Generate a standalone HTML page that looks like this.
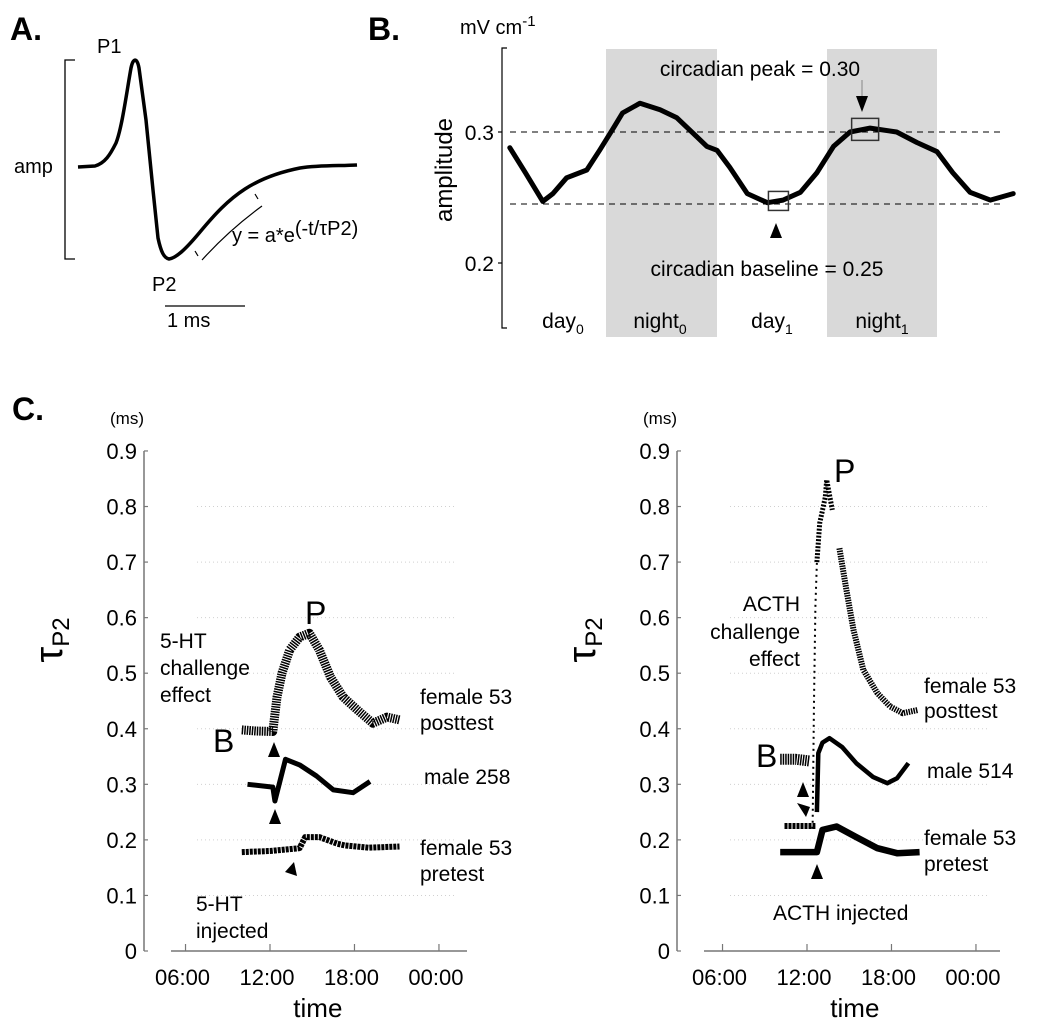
<!DOCTYPE html>
<html><head><meta charset="utf-8"><style>
html,body{margin:0;padding:0;background:#fff;}
svg{display:block;font-family:"Liberation Sans",Arial,sans-serif;}
</style></head><body>
<svg id="fig" width="1050" height="1031" viewBox="0 0 1050 1031" xmlns="http://www.w3.org/2000/svg">
<g>
<text x="10" y="40" font-size="32" font-weight="bold">A.</text>
<text x="97" y="53" font-size="20">P1</text>
<text x="152" y="291" font-size="20">P2</text>
<text x="14" y="173" font-size="20">amp</text>
<path d="M75,60 H65 V259 H75" fill="none" stroke="#000" stroke-width="1.3"/>
<path d="M78,167 L95,166 C105,163 110,155 116,143 C122,128 127,90 131,68 C133,58 137,57 139,68 L146,120 L153,190 L158,238 C161,252 164,258 169,259 C176,258 185,250 200,232 C215,214 228,200 245,189 C262,178 280,172 300,168 C320,165 340,166 357,165" fill="none" stroke="#000" stroke-width="3.5" stroke-linejoin="round"/>
<path d="M202,260 C220,240 240,222 262,206" fill="none" stroke="#000" stroke-width="1.2"/>
<line x1="195" y1="251" x2="198" y2="256" stroke="#000" stroke-width="1.2"/>
<line x1="255" y1="194" x2="258" y2="199" stroke="#000" stroke-width="1.2"/>
<text x="232" y="242" font-size="20">y = a*e<tspan dy="-7">(-t/τP2)</tspan></text>
<line x1="165" y1="306" x2="245" y2="306" stroke="#000" stroke-width="1.3"/>
<text x="167" y="327" font-size="20">1 ms</text>
</g>
<g id="panelB">
<text x="368" y="40" font-size="32" font-weight="bold">B.</text>
<rect x="606" y="49" width="111" height="288" fill="#d9d9d9"/>
<rect x="827" y="49" width="110" height="288" fill="#d9d9d9"/>
<text x="460" y="34" font-size="20">mV cm<tspan dy="-8" font-size="15">-1</tspan></text>
<text transform="translate(452,170) rotate(-90)" text-anchor="middle" font-size="24">amplitude</text>
<path d="M507,48 H502 V328 H507" fill="none" stroke="#000" stroke-width="1.2"/>
<line x1="498" y1="132" x2="502" y2="132" stroke="#000" stroke-width="1.2"/>
<line x1="498" y1="263" x2="502" y2="263" stroke="#000" stroke-width="1.2"/>
<text x="494" y="140" text-anchor="end" font-size="21">0.3</text>
<text x="494" y="271" text-anchor="end" font-size="21">0.2</text>
<text x="563" y="328" text-anchor="middle" font-size="21">day<tspan dy="6" font-size="14">0</tspan></text>
<text x="660" y="328" text-anchor="middle" font-size="21">night<tspan dy="6" font-size="14">0</tspan></text>
<text x="772" y="328" text-anchor="middle" font-size="21">day<tspan dy="6" font-size="14">1</tspan></text>
<text x="882" y="328" text-anchor="middle" font-size="21">night<tspan dy="6" font-size="14">1</tspan></text>
<text x="760" y="76" text-anchor="middle" font-size="21">circadian peak = 0.30</text>
<text x="767" y="276" text-anchor="middle" font-size="21">circadian baseline = 0.25</text>
<line x1="862" y1="80" x2="862" y2="97" stroke="#888" stroke-width="1"/>
<polygon points="856,96 868,96 862,112" fill="#000"/>
<polygon points="770,238 782,238 776,223" fill="#000"/>
</g>
<g id="panelC">
<text x="12" y="420" font-size="32" font-weight="bold">C.</text>
</g>
<g font-size="21">
<text x="305" y="624" font-size="32">P</text>
<text x="213" y="752" font-size="32">B</text>
<text x="160" y="648"><tspan x="160">5-HT</tspan><tspan x="160" dy="27">challenge</tspan><tspan x="160" dy="27">effect</tspan></text>
<text x="420" y="704"><tspan x="420">female 53</tspan><tspan x="420" dy="26">posttest</tspan></text>
<text x="424" y="784">male 258</text>
<text x="420" y="855"><tspan x="420">female 53</tspan><tspan x="420" dy="26">pretest</tspan></text>
<text x="196" y="911"><tspan x="196">5-HT</tspan><tspan x="196" dy="27">injected</tspan></text>
<polygon points="268,757 280,757 274,742" fill="#000"/>
<polygon points="269,824 281,824 275,809" fill="#000"/>
<polygon points="285,872 297,876 294,862" fill="#000"/>
<text x="834" y="482" font-size="32">P</text>
<text x="756" y="767" font-size="32">B</text>
<text x="800" y="611" text-anchor="end"><tspan x="800">ACTH</tspan><tspan x="800" dy="28">challenge</tspan><tspan x="800" dy="27">effect</tspan></text>
<text x="924" y="693"><tspan x="924">female 53</tspan><tspan x="924" dy="25">posttest</tspan></text>
<text x="927" y="778">male 514</text>
<text x="924" y="845"><tspan x="924">female 53</tspan><tspan x="924" dy="26">pretest</tspan></text>
<text x="773" y="920">ACTH injected</text>
<polygon points="797,797 809,797 803,782" fill="#000"/>
<polygon points="797,803 810,807 806,817" fill="#000"/>
<polygon points="811,879 823,879 817,864" fill="#000"/>
</g>
</svg>
<script>
// ---------- Panel B data ----------
var bHours = [1.5,3.2,5.1,6.2,7.7,9.9,11.3,12.8,13.8,15.7,17.9,19.7,21.5,23.0,24.1,25.5,27.4,29.6,31.3,33.2,35.0,36.8,38.6,40.8,43.7,45.9,48.1,49.8,51.7,53.9,56.4];
var bAmp = [0.288,0.269,0.247,0.253,0.265,0.271,0.286,0.303,0.3145,0.322,0.317,0.311,0.299,0.289,0.286,0.273,0.253,0.246,0.248,0.254,0.269,0.289,0.300,0.303,0.300,0.292,0.285,0.269,0.254,0.248,0.253];
var bRefLevels = [0.30, 0.245];
var bPeakHour = 40.2, bPeakVal = 0.302;
var bBaseHour = 30.8, bBaseVal = 0.247;

// ---------- Panel C data ----------
var cTicksY = [0,0.1,0.2,0.3,0.4,0.5,0.6,0.7,0.8,0.9];
var cTickLabelsY = ["0","0.1","0.2","0.3","0.4","0.5","0.6","0.7","0.8","0.9"];
var cTicksX = [6,12,18,24];
var cTickLabelsX = ["06:00","12:00","18:00","00:00"];
var l5htPostH = [10.0,11.0,12.2,12.5,12.85,13.4,14.1,14.8,15.5,16.3,17.2,18.2,19.3,20.3,21.2];
var l5htPostV = [0.398,0.396,0.395,0.457,0.50,0.542,0.565,0.572,0.542,0.493,0.457,0.434,0.41,0.421,0.416];
var lMaleH = [10.4,12.2,12.35,13.1,14.1,15.3,16.5,17.9,19.1];
var lMaleV = [0.30,0.295,0.27,0.345,0.335,0.315,0.29,0.285,0.305];
var lPreH = [10.0,12.0,14.1,14.5,15.5,16.8,17.3,19.0,21.2];
var lPreV = [0.178,0.18,0.185,0.205,0.205,0.193,0.19,0.186,0.188];
var rBaseH = [10.1,11.2,12.2];
var rBaseV = [0.345,0.345,0.342];
var rRiseH = [12.4,12.5,12.6,12.7];
var rRiseV = [0.22,0.45,0.62,0.70];
var rPeakH = [12.7,12.9,13.3,13.4,13.8];
var rPeakV = [0.70,0.77,0.817,0.848,0.794];
var rDecayH = [14.3,14.8,15.3,16.0,17.0,17.9,18.8,19.9];
var rDecayV = [0.725,0.65,0.578,0.506,0.464,0.44,0.428,0.434];
var rMaleH = [12.7,12.8,13.1,13.6,14.5,15.5,16.7,17.7,18.4,19.2];
var rMaleV = [0.25,0.356,0.375,0.383,0.367,0.338,0.313,0.302,0.311,0.338];
var rPreUpH = [10.4,12.6];
var rPreUpV = [0.225,0.225];
var rPreH = [10.1,12.7,13.1,14.1,15.5,17.0,18.4,20.0];
var rPreV = [0.178,0.178,0.218,0.224,0.205,0.185,0.176,0.178];

var NS = "http://www.w3.org/2000/svg";
function mk(tag, attrs, parent){
  var e = document.createElementNS(NS, tag);
  for (var k in attrs) e.setAttribute(k, attrs[k]);
  parent.appendChild(e);
  return e;
}
function xB(h){ return 496 + h*9.17; }
function yB(v){ return 132 + (0.3 - v)*1310; }
function yC(v){ return 951 - v*555.6; }
function xCL(h){ return 270 + (h-12)*14.08; }
function xCR(h){ return 807 + (h-12)*14.08; }

var gB = document.getElementById('panelB');
bRefLevels.forEach(function(v){
  var l = mk('line',{x1:510,x2:1004,y1:yB(v),y2:yB(v),stroke:'#000','stroke-width':1,'stroke-dasharray':'6 5'},gB);
  
  
});
var ptsB = bHours.map(function(h,i){ return xB(h).toFixed(1)+','+yB(bAmp[i]).toFixed(1); }).join(' ');
var lineB = mk('polyline',{points:ptsB,fill:'none',stroke:'#000','stroke-width':5,'stroke-linejoin':'round','stroke-linecap':'round'},gB);


var pk = mk('rect',{x:xB(bPeakHour)-13,y:yB(bPeakVal)-11,width:27,height:22,fill:'none',stroke:'#333','stroke-width':1.5},gB);


var bx = mk('rect',{x:xB(bBaseHour)-10,y:yB(bBaseVal)-10,width:20,height:19,fill:'none',stroke:'#333','stroke-width':1.5},gB);



var gC = document.getElementById('panelC');
function drawPanel(ax, xf, side){
  cTicksY.forEach(function(v,i){
    if (i > 0 && i < cTicksY.length-1){
      var g = mk('line',{x1:ax+53,x2:ax+311,y1:yC(v),y2:yC(v),stroke:'#d0d0d0','stroke-width':1,'stroke-dasharray':'1 3'},gC);
      
      
    }
    var t = mk('line',{x1:ax,x2:ax+4,y1:yC(v),y2:yC(v),stroke:'#777','stroke-width':1.2},gC);
    
    
    var tl = mk('text',{x:ax-7,y:yC(v)+8,'text-anchor':'end','font-size':22},gC);
    tl.textContent = cTickLabelsY[i];
    
    
  });
  var ya = mk('line',{x1:ax,x2:ax,y1:yC(0.9),y2:yC(0),stroke:'#777','stroke-width':1.5},gC);
  
  
  var xa = mk('line',{x1:ax+27,x2:ax+323,y1:951,y2:951,stroke:'#777','stroke-width':1.5},gC);
  
  
  cTicksX.forEach(function(h,i){
    var t = mk('line',{x1:xf(h),x2:xf(h),y1:944,y2:951,stroke:'#777','stroke-width':1.2},gC);
    
    
    var tl = mk('text',{x:xf(h)-3,y:985,'text-anchor':'middle','font-size':22},gC);
    tl.textContent = cTickLabelsX[i];
    
    
  });
  var xt = mk('text',{x:xf(15.4),y:1017,'text-anchor':'middle','font-size':26},gC);
  xt.textContent = 'time';
  
  
  var un = mk('text',{x:ax-34,y:424,'font-size':17},gC);
  un.textContent = '(ms)';
  
  
  var yt = mk('text',{transform:'translate('+(ax-82)+',640) rotate(-90)','text-anchor':'middle','font-size':40},gC);
  var tau = mk('tspan',{},yt);
  tau.textContent = 'τ';
  var sub = mk('tspan',{'font-size':24,dy:7},yt);
  sub.textContent = 'P2';
  
  
}
drawPanel(144, xCL, 'left');
drawPanel(677, xCR, 'right');

function series(H, V, xf, w, dash, name){
  var pts = H.map(function(h,i){ return xf(h).toFixed(1)+','+yC(V[i]).toFixed(1); }).join(' ');
  var attrs = {points:pts,fill:'none',stroke:'#000','stroke-width':w,'stroke-linejoin':'round'};
  if (dash) attrs['stroke-dasharray'] = dash;
  var p = mk('polyline', attrs, gC);
  
  
}
series(l5htPostH, l5htPostV, xCL, 9, '1.5 1', 'left-female53-posttest');
series(lMaleH, lMaleV, xCL, 5, null, 'left-male258');
series(lPreH, lPreV, xCL, 6, '3 1', 'left-female53-pretest');
series(rBaseH, rBaseV, xCR, 11, '1.5 1', 'right-baseline-b');
series(rRiseH, rRiseV, xCR, 2, '2 4', 'right-acth-rise');
series(rPeakH, rPeakV, xCR, 5, '2 1.5', 'right-acth-peak');
series(rDecayH, rDecayV, xCR, 6, '1.5 1', 'right-female53-posttest');
series(rMaleH, rMaleV, xCR, 4.5, null, 'right-male514');
series(rPreUpH, rPreUpV, xCR, 6, '3 1', 'right-pretest-upper');
series(rPreH, rPreV, xCR, 6.5, null, 'right-female53-pretest');
</script>
</body></html>
